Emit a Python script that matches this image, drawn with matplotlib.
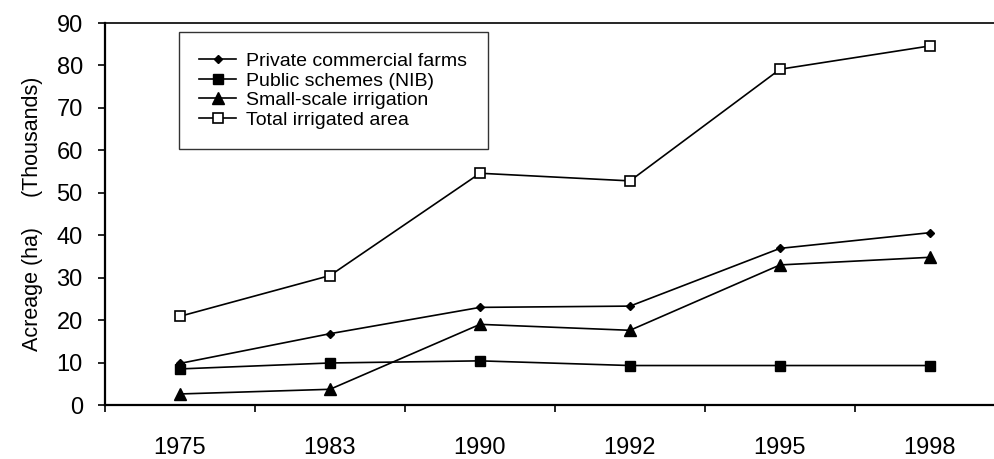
import matplotlib
matplotlib.use('Agg')
import matplotlib.pyplot as plt
import numpy as np

plt.rcParams['font.family'] = ['Liberation Sans', 'DejaVu Sans']

# data (thousand ha)
years = ['1975', '1983', '1990', '1992', '1995', '1998']
private_farms = [9.8, 16.8, 23.0, 23.3, 36.9, 40.6]
public_nib = [8.5, 9.9, 10.4, 9.3, 9.3, 9.3]
small_scale = [2.6, 3.7, 19.0, 17.6, 33.0, 34.8]
total_area = [20.9, 30.5, 54.6, 52.8, 79.1, 84.6]

fig = plt.figure(figsize=(9.95, 4.59), dpi=100)
# plot area runs a bit past the right edge of the picture, as in the original
ax = fig.add_axes([105 / 995, 54 / 459, 900 / 995, 382 / 459])

x = np.arange(len(years))
ax.plot(x, private_farms, color='black', lw=1.2, marker='D', ms=4.5,
        label='Private commercial farms')
ax.plot(x, public_nib, color='black', lw=1.2, marker='s', ms=7,
        label='Public schemes (NIB)')
ax.plot(x, small_scale, color='black', lw=1.2, marker='^', ms=8,
        label='Small-scale irrigation')
ax.plot(x, total_area, color='black', lw=1.2, marker='s', ms=7,
        mfc='white', mew=1.2, label='Total irrigated area')

ax.set_xlim(-0.5, 5.5)
ax.set_ylim(0, 90)
ax.set_yticks(np.arange(0, 91, 10))
ax.set_xticks(x)
ax.set_xticklabels(years)
ax.set_xticks(np.arange(-0.5, 6, 1), minor=True)
ax.tick_params(axis='x', which='major', length=0, pad=23, labelsize=17)
ax.tick_params(axis='x', which='minor', length=5, width=1.2, direction='out')
ax.tick_params(axis='y', length=5, width=1.2, direction='out', pad=11,
               labelsize=17)

for s in ['left', 'bottom']:
    ax.spines[s].set_linewidth(1.6)
ax.spines['top'].set_linewidth(1.2)
ax.spines['right'].set_visible(False)

ax.set_ylabel('Acreage (ha)     (Thousands)', fontsize=15.5, labelpad=10)

leg = ax.legend(loc='upper left', bbox_to_anchor=(179 / 995, 1 - 32 / 459),
                bbox_transform=fig.transFigure, fontsize=14, frameon=True,
                fancybox=False, edgecolor='black', handlelength=1.9,
                labelspacing=0.1, borderpad=1.05, handletextpad=0.5,
                borderaxespad=0)
leg.get_frame().set_linewidth(1.0)

fig.savefig('out.png', dpi=100)
